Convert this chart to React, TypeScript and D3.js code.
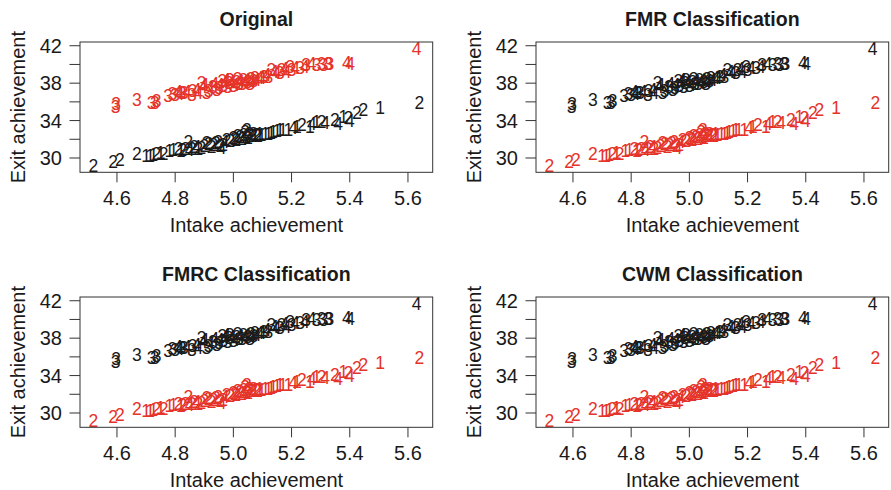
import React from "react";
import * as d3 from "d3";

// Upper cluster (component A)
const upperX = [4.595, 4.597, 4.668, 4.719, 4.73, 4.736, 4.776, 4.79, 4.8, 4.81, 4.815, 4.822, 4.83, 4.84, 4.857, 4.86, 4.874, 4.88, 4.891, 4.895, 4.9, 4.908, 4.915, 4.92, 4.93, 4.935, 4.943, 4.95, 4.954, 4.962, 4.965, 4.971, 4.975, 4.98, 4.985, 4.988, 4.995, 5.0, 5.006, 5.011, 5.015, 5.02, 5.023, 5.03, 5.034, 5.04, 5.046, 5.05, 5.057, 5.06, 5.063, 5.07, 5.074, 5.08, 5.09, 5.097, 5.105, 5.114, 5.12, 5.131, 5.14, 5.149, 5.16, 5.166, 5.175, 5.183, 5.195, 5.2, 5.212, 5.229, 5.246, 5.25, 5.269, 5.286, 5.303, 5.31, 5.326, 5.33, 5.39, 5.401, 5.63];
const upperY = [35.5, 35.8, 36.2, 35.9, 35.9, 36.1, 36.6, 36.8, 36.7, 37.1, 36.8, 36.9, 36.9, 37.1, 36.7, 37.2, 37.3, 37.0, 38.0, 37.6, 37.8, 37.0, 37.2, 37.45, 37.6, 37.9, 37.3, 37.5, 37.8, 38.2, 37.7, 38.0, 38.3, 37.6, 38.0, 38.3, 38.1, 37.7, 37.8, 38.1, 38.4, 37.9, 38.15, 37.9, 38.3, 38.0, 38.3, 38.1, 37.9, 38.4, 38.1, 38.2, 38.5, 38.3, 38.6, 38.5, 38.7, 38.9, 38.7, 39.4, 39.2, 39.05, 39.1, 39.4, 39.5, 39.2, 39.75, 39.4, 39.6, 39.6, 39.75, 39.9, 40.1, 39.9, 40.1, 39.9, 40.1, 40.0, 40.2, 40.1, 41.7];
const upperLab = ["3", "3", "3", "3", "3", "3", "3", "3", "3", "4", "4", "3", "3", "4", "3", "3", "4", "4", "3", "4", "4", "3", "3", "4", "3", "4", "3", "3", "4", "3", "3", "4", "4", "3", "3", "3", "4", "3", "4", "3", "3", "3", "4", "3", "3", "4", "4", "3", "3", "3", "4", "3", "3", "4", "4", "4", "3", "4", "3", "3", "4", "4", "3", "3", "4", "4", "3", "3", "4", "3", "4", "3", "4", "3", "3", "3", "3", "3", "4", "4", "4"];

// Lower cluster (component B)
const lowerX = [4.519, 4.587, 4.61, 4.668, 4.7, 4.714, 4.725, 4.735, 4.75, 4.76, 4.78, 4.794, 4.811, 4.82, 4.825, 4.835, 4.845, 4.85, 4.857, 4.865, 4.874, 4.88, 4.89, 4.9, 4.908, 4.915, 4.925, 4.931, 4.94, 4.948, 4.955, 4.96, 4.965, 4.97, 4.977, 4.99, 5.0, 5.005, 5.01, 5.015, 5.023, 5.03, 5.035, 5.04, 5.045, 5.046, 5.051, 5.055, 5.058, 5.065, 5.069, 5.074, 5.08, 5.085, 5.09, 5.097, 5.11, 5.12, 5.13, 5.137, 5.15, 5.16, 5.17, 5.189, 5.205, 5.218, 5.235, 5.263, 5.27, 5.286, 5.303, 5.315, 5.349, 5.36, 5.378, 5.395, 5.4, 5.424, 5.447, 5.504, 5.639];
const lowerY = [29.1, 29.55, 29.8, 30.4, 30.2, 30.2, 30.3, 30.4, 30.5, 30.45, 30.7, 30.85, 31.0, 30.8, 30.9, 31.0, 31.7, 30.9, 31.0, 31.15, 31.2, 31.0, 31.1, 31.3, 31.55, 31.5, 31.2, 31.4, 31.6, 31.75, 31.3, 31.1, 31.4, 31.7, 31.9, 31.8, 32.1, 32.0, 31.9, 32.3, 32.2, 32.0, 32.5, 32.8, 32.2, 33.0, 32.1, 32.6, 32.3, 32.3, 32.6, 32.45, 32.5, 32.4, 32.6, 32.45, 32.55, 32.6, 32.7, 32.8, 32.9, 33.0, 32.95, 33.0, 33.2, 33.35, 33.5, 33.35, 33.6, 33.9, 33.9, 33.7, 34.1, 33.6, 34.35, 34.25, 33.95, 34.8, 35.1, 35.3, 35.85];
const lowerLab = ["2", "2", "2", "2", "1", "1", "1", "2", "1", "2", "1", "1", "2", "1", "2", "2", "2", "4", "2", "2", "4", "2", "2", "2", "2", "2", "2", "2", "2", "2", "2", "4", "2", "4", "2", "2", "2", "2", "2", "2", "2", "2", "2", "2", "2", "2", "2", "2", "2", "2", "2", "1", "2", "2", "1", "1", "1", "1", "1", "1", "1", "1", "1", "1", "4", "1", "2", "1", "4", "1", "2", "4", "2", "4", "1", "2", "4", "2", "2", "1", "2"];

const panelTitles = ["Original", "FMR Classification", "FMRC Classification", "CWM Classification"];
// colour of upper / lower cluster per panel
const upperColors = ["#e5332a", "#1a1a1a", "#1a1a1a", "#1a1a1a"];
const lowerColors = ["#1a1a1a", "#e5332a", "#e5332a", "#e5332a"];

const xTicks = [4.6, 4.8, 5.0, 5.2, 5.4, 5.6];
const yTicks = [30, 32, 34, 36, 38, 40, 42];
const yTickLabels = [30, 34, 38, 42];

const FONT = "'Liberation Sans', Arial, Helvetica, sans-serif";

function Panel({ idx, ox, oy }: { idx: number; ox: number; oy: number }) {
  const left = 80, right = 432.7, top = 42, bottom = 172.3;
  const x = d3.scaleLinear().domain([4.473, 5.685]).range([left, right]);
  const y = d3.scaleLinear().domain([28.47, 42.4]).range([bottom, top]);
  const axisColor = "#333";
  return (
    <g transform={`translate(${ox},${oy})`} fontFamily={FONT}>
      <text x={(left + right) / 2} y={25.5} textAnchor="middle" fontWeight="bold" fontSize={19.5} fill="#1a1a1a">
        {panelTitles[idx]}
      </text>
      {upperX.map((v, i) => (
        <text key={"u" + i} x={x(v)} y={y(upperY[i])} textAnchor="middle" dominantBaseline="central" fontSize={17.5} fill={upperColors[idx]}>
          {upperLab[i]}
        </text>
      ))}
      {lowerX.map((v, i) => (
        <text key={"l" + i} x={x(v)} y={y(lowerY[i])} textAnchor="middle" dominantBaseline="central" fontSize={17.5} fill={lowerColors[idx]}>
          {lowerLab[i]}
        </text>
      ))}
      <rect x={left} y={top} width={right - left} height={bottom - top} fill="none" stroke={axisColor} strokeWidth={1} />
      {xTicks.map((t) => (
        <g key={"xt" + t}>
          <line x1={x(t)} x2={x(t)} y1={bottom} y2={bottom + 10} stroke={axisColor} />
          <text x={x(t)} y={205} textAnchor="middle" fontSize={20} fill="#1a1a1a">
            {t.toFixed(1)}
          </text>
        </g>
      ))}
      {yTicks.map((t) => (
        <line key={"yt" + t} x1={left - 10.5} x2={left} y1={y(t)} y2={y(t)} stroke={axisColor} />
      ))}
      {yTickLabels.map((t) => (
        <text key={"yl" + t} x={62} y={y(t)} textAnchor="end" dominantBaseline="central" fontSize={20} fill="#1a1a1a">
          {t}
        </text>
      ))}
      <text x={(left + right) / 2} y={232} textAnchor="middle" fontSize={20} fill="#1a1a1a">
        Intake achievement
      </text>
      <text transform={`translate(25,${(top + bottom) / 2}) rotate(-90)`} textAnchor="middle" fontSize={20} fill="#1a1a1a">
        Exit achievement
      </text>
    </g>
  );
}

export default function App() {
  return (
    <svg width={891} height={490} style={{ display: "block", position: "absolute", left: 0, top: 0, background: "#fff" }}>
      <Panel idx={0} ox={0} oy={0} />
      <Panel idx={1} ox={456} oy={0} />
      <Panel idx={2} ox={0} oy={255} />
      <Panel idx={3} ox={456} oy={255} />
    </svg>
  );
}
